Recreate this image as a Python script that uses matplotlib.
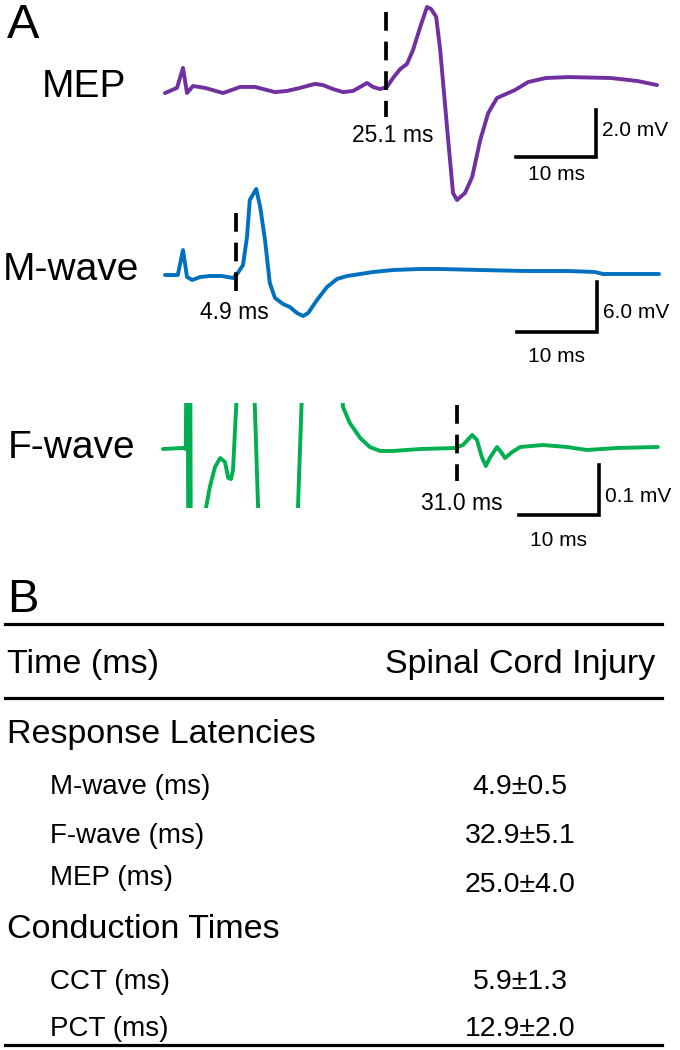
import matplotlib
matplotlib.use("Agg")
import matplotlib.pyplot as plt

plt.rcParams['font.family'] = ['Liberation Sans', 'DejaVu Sans']

# ---------------- data (ms, mV) ----------------
mep_t = [-2.5, -1.0, -0.25, 0.25, 1.0, 2.5, 4.75, 6.9, 8.75, 11.25, 12.75, 14.4, 16.25,
         17.25, 18.5, 19.75, 21.0, 21.9, 22.75, 23.5, 24.4, 25.25, 26.0, 26.9, 27.75, 28.5,
         29.4, 30.25, 30.75, 31.4, 31.9, 32.75, 33.5, 34.0, 35.0, 35.9, 36.9, 37.9, 39.0,
         41.25, 42.9, 45.1, 47.9, 53.25, 56.6, 59.0]
mep_v = [-0.13, 0.09, 0.94, -0.13, 0.17, 0.09, -0.13, 0.13, 0.13, -0.09, -0.04, 0.09, 0.26,
         0.21, 0.04, -0.09, -0.04, 0.13, 0.30, 0.13, 0.04, 0.13, 0.51, 0.89, 1.11, 1.70,
         2.68, 3.53, 3.45, 3.11, 1.70, -1.57, -4.38, -4.68, -4.38, -3.70, -2.13, -0.98, -0.34,
         0.0, 0.34, 0.51, 0.55, 0.51, 0.38, 0.21]

mwave_t = [-2.5, -0.9, -0.25, 0.25, 0.9, 1.9, 3.1, 4.6, 6.0, 6.6, 7.25, 7.75, 8.1, 8.9, 9.4,
           10.0, 10.6, 11.25, 12.25, 13.1, 14.0, 14.75, 15.4, 16.5, 17.75, 19.0, 20.25,
           21.9, 23.5, 26.0, 29.4, 32.0, 36.9, 42.4, 47.9, 51.25, 52.25, 59.25]
mwave_v = [0.24, 0.24, 3.24, 0.0, -0.36, 0.0, 0.12, 0.12, -0.12, 0.48, 1.44, 4.8, 9.24, 10.56,
           8.4, 4.44, -0.72, -2.52, -3.24, -3.6, -4.32, -4.68, -4.32, -2.76, -1.2, -0.24, 0.12,
           0.36, 0.6, 0.84, 0.96, 0.96, 0.84, 0.72, 0.72, 0.6, 0.36, 0.36]

fwave_t = [-2.75, -0.25, 0.1, 0.3, 0.45, 0.6, 0.8, 2.25, 2.35, 2.6, 3.1, 3.75, 4.4, 5.0, 5.4,
           5.75, 6.0, 6.6, 8.6, 9.2, 14.05, 14.7, 19.5, 19.75, 20.6, 21.9, 23.1, 24.4, 26.0,
           29.4, 33.75, 34.75, 35.9, 36.5, 37.1, 37.6, 38.1, 39.0, 39.6, 40.0, 40.9, 41.9,
           44.75, 47.75, 50.25, 54.0, 59.1]
fwave_v = [0.0, 0.002, 0.0, 0.5, -0.5, 0.5, -0.6, -0.6, -0.3, -0.12, -0.076, -0.036, -0.018,
           -0.026, -0.058, -0.06, -0.042, 0.15, 0.15, -0.15, -0.15, 0.15, 0.15, 0.084, 0.052,
           0.022, 0.004, -0.004, -0.004, 0.0, 0.002, 0.008, 0.028, 0.018, -0.016, -0.034,
           -0.018, 0.004, -0.008, -0.018, -0.006, 0.004, 0.008, 0.004, -0.002, 0.002, 0.004]

trace_names = ["MEP", "M-wave", "F-wave"]
trace_colors = ["#7030A0", "#0070C0", "#00B050"]
onset_ms = [25.1, 6.4, 34.0]          # dashed marker positions
onset_labels = ["25.1 ms", "4.9 ms", "31.0 ms"]
scale_mv = [2.0, 6.0, 0.1]
scale_labels = ["2.0 mV", "6.0 mV", "0.1 mV"]
scale_ms = 10.0

table_header = ["Time (ms)", "Spinal Cord Injury"]
section_names = ["Response Latencies", "Conduction Times"]
latency_rows = ["M-wave (ms)", "F-wave (ms)", "MEP (ms)"]
latency_vals = ["4.9±0.5", "32.9±5.1", "25.0±4.0"]
conduction_rows = ["CCT (ms)", "PCT (ms)"]
conduction_vals = ["5.9±1.3", "12.9±2.0"]

# ---------------- layout ----------------
W, H = 680, 1050
fig = plt.figure(figsize=(W / 100, H / 100), dpi=100)

def px_axes(x0, y0, x1, y1):
    ax = fig.add_axes([x0 / W, 1 - y1 / H, (x1 - x0) / W, (y1 - y0) / H])
    ax.set_axis_off()
    return ax

PX_PER_MS = 8.0
T0_PX = 185.0
xlim = ((0 - T0_PX) / PX_PER_MS, (W - T0_PX) / PX_PER_MS)

# (axes top px, axes bottom px, baseline px, px per mV)
panel_geom = [(0, 230, 90, 23.5), (180, 370, 277, 8.333), (403, 507.5, 449, 500.0)]
label_y_px = [87, 270, 448]
label_x_px = [42, 3, 8]

dash_px = [(12, 117), (213, 291), (405, 481)]
onset_lab_px = [(393, 136), (234, 312), (462, 503)]
bar_px = [(516, 157), (517, 332), (519, 515)]   # left x, y of horizontal bar
mv_lab_py = [131, 312, 496]
ms_lab_py = [175, 356, 540]

series = [(mep_t, mep_v), (mwave_t, mwave_v), (fwave_t, fwave_v)]

for i, (t, v) in enumerate(series):
    top, bot, base, ppm = panel_geom[i]
    ax = px_axes(0, top, W, bot)
    ax.set_xlim(*xlim)
    ax.set_ylim((base - bot) / ppm, (base - top) / ppm)
    ax.plot(t, v, color=trace_colors[i], lw=2.8, solid_joinstyle='round',
            solid_capstyle='round')

    def yv(py):
        return (base - py) / ppm

    def tx(px):
        return (px - T0_PX) / PX_PER_MS

    # dashed onset marker
    ax.plot([onset_ms[i], onset_ms[i]], [yv(dash_px[i][0]), yv(dash_px[i][1])],
            color='black', lw=2.7, dashes=(5.0, 2.9), clip_on=False)
    ax.text(tx(onset_lab_px[i][0]), yv(onset_lab_px[i][1]), onset_labels[i],
            ha='center', va='center', fontsize=16.5, clip_on=False)

    # scale bar
    bx0 = tx(bar_px[i][0])
    bx1 = bx0 + scale_ms
    by0 = yv(bar_px[i][1])
    by1 = by0 + scale_mv[i]
    ax.plot([bx0, bx1, bx1], [by0, by0, by1], color='black', lw=2.6,
            solid_joinstyle='miter', clip_on=False)
    ax.text(bx1 + 0.8, yv(mv_lab_py[i]), scale_labels[i], ha='left', va='center',
            fontsize=15, clip_on=False)
    ax.text((bx0 + bx1) / 2, yv(ms_lab_py[i]), "10 ms", ha='center', va='center',
            fontsize=15, clip_on=False)

    fig.text(label_x_px[i] / W, 1 - label_y_px[i] / H, trace_names[i],
             ha='left', va='center', fontsize=28)

fig.text(7 / W, 1 - 26 / H, "A", ha='left', va='center', fontsize=35)
fig.text(7 / W, 1 - 600 / H, "B", ha='left', va='center', fontsize=34)

# ---------------- table ----------------
tax = px_axes(0, 0, W, H)
tax.set_xlim(0, W)
tax.set_ylim(H, 0)
for yl in [624, 698, 1045]:
    tax.plot([5, 662], [yl, yl], color='black', lw=2.3)

tax.text(7, 664, table_header[0], ha='left', va='center', fontsize=24.5)
tax.text(655, 664, table_header[1], ha='right', va='center', fontsize=24.5)

tax.text(7, 734, section_names[0], ha='left', va='center', fontsize=24.5)
row_y = [787, 836, 878]
val_y = [787, 836, 885]
for lab, val, ry, vy in zip(latency_rows, latency_vals, row_y, val_y):
    tax.text(50, ry, lab, ha='left', va='center', fontsize=20)
    tax.text(520, vy, val, ha='center', va='center', fontsize=20.5)

tax.text(7, 930, section_names[1], ha='left', va='center', fontsize=24.5)
for lab, val, ry in zip(conduction_rows, conduction_vals, [982, 1029]):
    tax.text(50, ry, lab, ha='left', va='center', fontsize=20)
    tax.text(520, ry, val, ha='center', va='center', fontsize=20.5)

fig.savefig("out.png", dpi=100)
